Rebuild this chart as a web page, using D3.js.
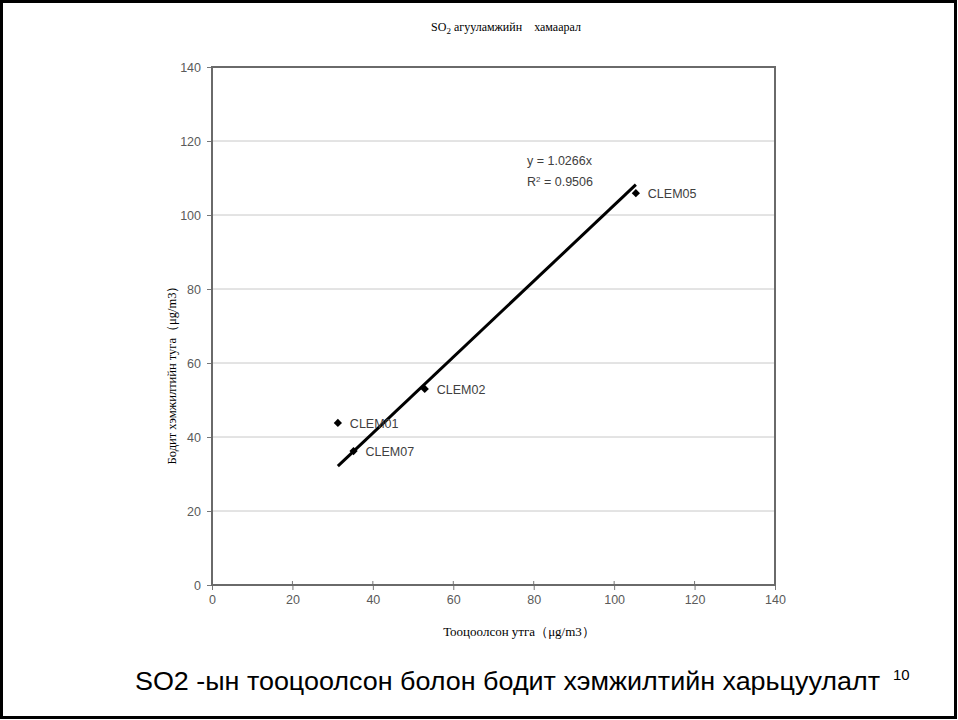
<!DOCTYPE html>
<html><head><meta charset="utf-8">
<script src="https://cdn.jsdelivr.net/npm/d3@7"></script>
<style>body{margin:0;background:#fff}svg{display:block}</style>
</head><body>
<svg id="c" width="958" height="720"></svg>
<script>
const labels = ["CLEM01", "CLEM07", "CLEM02", "CLEM05"];
const xValues = [31.3, 35.2, 52.9, 105.4];
const yValues = [43.8, 36.2, 53.0, 105.9];
const slope = [1.0266];
const rSquared = [0.9506];
const xTicks = [0, 20, 40, 60, 80, 100, 120, 140];
const yTicks = [0, 20, 40, 60, 80, 100, 120, 140];

const svg = d3.select("#c");
const L = 212, R = 775, T = 67, B = 585;
const x = d3.scaleLinear().domain([0, 140]).range([L, R]);
const y = d3.scaleLinear().domain([0, 140]).range([B, T]);

// outer frame
svg.append("rect").attr("x", 1.5).attr("y", 1.5).attr("width", 954).attr("height", 716)
  .attr("fill", "none").attr("stroke", "#000").attr("stroke-width", 3);

// title
const title = svg.append("text").attr("x", 506).attr("y", 31).attr("text-anchor", "middle")
  .attr("font-family", "Liberation Serif, serif").attr("font-size", 12).attr("fill", "#000");
title.append("tspan").text("SO");
title.append("tspan").attr("font-size", 9).attr("dy", 3).text("2");
title.append("tspan").attr("dy", -3).text(" агууламжийн\u00a0\u00a0\u00a0 хамаарал");

// gridlines
svg.append("g").selectAll("line").data(yTicks.filter(d => d > 0 && d < 140)).join("line")
  .attr("x1", L).attr("x2", R).attr("y1", d => y(d)).attr("y2", d => y(d))
  .attr("stroke", "#c8c8c8").attr("stroke-width", 1);

// axes
const yAxis = svg.append("g").attr("transform", `translate(${L},0)`)
  .call(d3.axisLeft(y).tickValues(yTicks).tickSize(5).tickPadding(6));
const xAxis = svg.append("g").attr("transform", `translate(0,${B})`)
  .call(d3.axisBottom(x).tickValues(xTicks).tickSize(5).tickPadding(5));
[yAxis, xAxis].forEach(g => {
  g.select(".domain").remove();
  g.selectAll(".tick line").attr("stroke", "#777");
  g.selectAll(".tick text").attr("font-family", "Liberation Sans, Arial, sans-serif")
    .attr("font-size", 12.5).attr("fill", "#5a5a5a");
});
svg.append("g").selectAll("line").data(xTicks).join("line")
  .attr("x1", d => x(d)).attr("x2", d => x(d)).attr("y1", B - 4).attr("y2", B)
  .attr("stroke", "#777");

// plot border
svg.append("rect").attr("x", L).attr("y", T).attr("width", R - L).attr("height", B - T)
  .attr("fill", "none").attr("stroke", "#6a6a6a").attr("stroke-width", 2);

// trendline
const xMin = d3.min(xValues), xMax = d3.max(xValues);
svg.append("line")
  .attr("x1", x(xMin)).attr("y1", y(slope[0] * xMin))
  .attr("x2", x(xMax)).attr("y2", y(slope[0] * xMax))
  .attr("stroke", "#000").attr("stroke-width", 3);

// points
const pts = labels.map((l, i) => ({ l, x: xValues[i], y: yValues[i] }));
svg.append("g").selectAll("path").data(pts).join("path")
  .attr("d", d3.symbol().type(d3.symbolSquare).size(34))
  .attr("transform", d => `translate(${x(d.x)},${y(d.y)}) rotate(45)`)
  .attr("fill", "#000");
svg.append("g").selectAll("text").data(pts).join("text")
  .attr("x", d => x(d.x) + 12).attr("y", d => y(d.y) + 5)
  .attr("font-family", "Liberation Sans, Arial, sans-serif").attr("font-size", 12.5)
  .attr("fill", "#404040").text(d => d.l);

// equation
const eq = svg.append("g").attr("font-family", "Liberation Sans, Arial, sans-serif")
  .attr("font-size", 12.5).attr("fill", "#404040");
eq.append("text").attr("x", 527).attr("y", 165).text(`y = ${slope[0]}x`);
const r2 = eq.append("text").attr("x", 527).attr("y", 186);
r2.append("tspan").text("R");
r2.append("tspan").attr("font-size", 8).attr("dy", -4).text("2");
r2.append("tspan").attr("dy", 4).text(` = ${rSquared[0]}`);

// axis titles
svg.append("text").attr("x", 519).attr("y", 636).attr("text-anchor", "middle")
  .attr("font-family", "Liberation Serif, serif").attr("font-size", 13).attr("fill", "#000")
  .text("Тооцоолсон утга（μg/m3）");
svg.append("text").attr("transform", "translate(176,372) rotate(-90)").attr("text-anchor", "middle")
  .attr("font-family", "Liberation Serif, serif").attr("font-size", 12.5).attr("fill", "#000")
  .text("Бодит хэмжилтийн  туга（μg/m3）");

// caption
const cap = svg.append("text").attr("x", 135).attr("y", 690)
  .attr("font-family", "Liberation Sans, Arial, sans-serif").attr("font-size", 26).attr("fill", "#000");
cap.append("tspan").attr("textLength", 745).attr("lengthAdjust", "spacingAndGlyphs")
  .text("SO2 -ын тооцоолсон болон бодит хэмжилтийн харьцуулалт");
cap.append("tspan").attr("x", 893).attr("font-size", 15).attr("dy", -10).text("10");
</script>
</body></html>
